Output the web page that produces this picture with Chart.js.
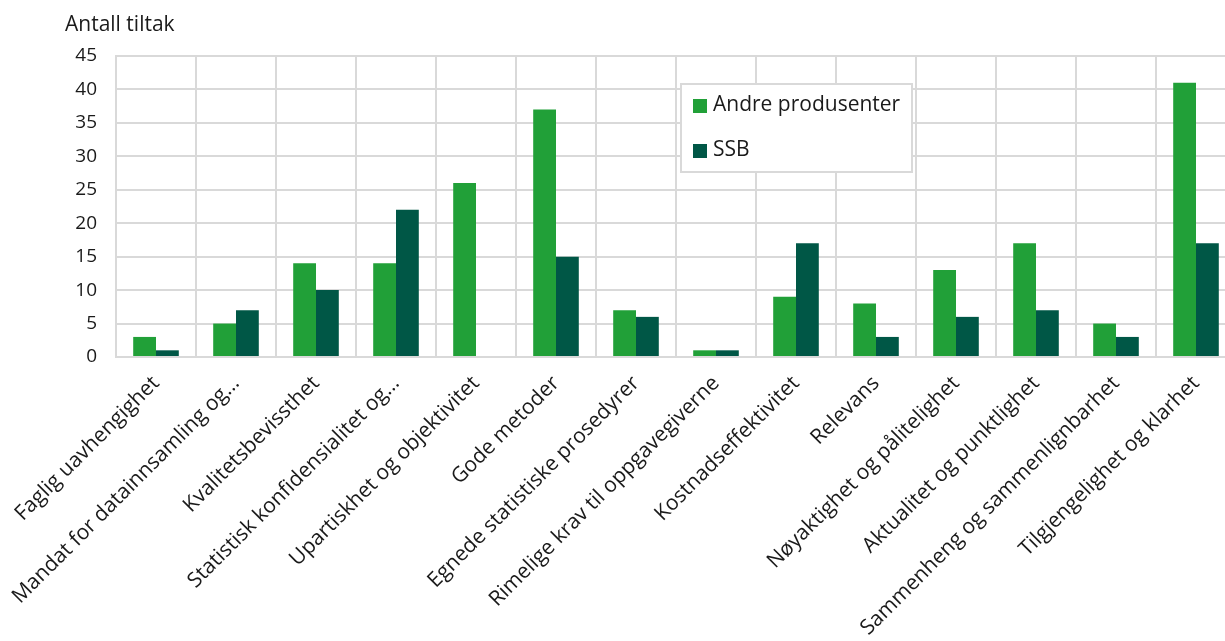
<!DOCTYPE html>
<html>
<head>
<meta charset="utf-8">
<script src="https://cdn.jsdelivr.net/npm/chart.js@4.4.1/dist/chart.umd.min.js"></script>
<style>
  html, body { margin: 0; padding: 0; background: #fff; overflow: hidden; }
  #wrap { width: 1240px; height: 641px; }
</style>
</head>
<body>
<div id="wrap"><canvas id="chart"></canvas></div>
<script>
const categories = [
    'Faglig uavhengighet',
    'Mandat for datainnsamling og…',
    'Kvalitetsbevissthet',
    'Statistisk konfidensialitet og…',
    'Upartiskhet og objektivitet',
    'Gode metoder',
    'Egnede statistiske prosedyrer',
    'Rimelige krav til oppgavegiverne',
    'Kostnadseffektivitet',
    'Relevans',
    'Nøyaktighet og pålitelighet',
    'Aktualitet og punktlighet',
    'Sammenheng og sammenlignbarhet',
    'Tilgjengelighet og klarhet'
];
const andreProdusenter = [3, 5, 14, 14, 26, 37, 7, 1, 9, 8, 13, 17, 5, 41];
const ssb = [1, 7, 10, 22, 0, 15, 6, 1, 17, 3, 6, 7, 3, 17];
const seriesNames = ['Andre produsenter', 'SSB'];
const yTicks = [0, 5, 10, 15, 20, 25, 30, 35, 40, 45];
const yTitle = 'Antall tiltak';

const colors = ['#21a038', '#005746'];
const gridColor = '#d9d9d9';
const textColor = '#1a1a1a';
const font = "'Open Sans', sans-serif";

// title over the y axis + boxed legend inside the plot
const extras = {
    id: 'extras',
    afterDraw(chart) {
        const ctx = chart.ctx;
        const area = chart.chartArea;
        ctx.save();
        ctx.fillStyle = textColor;
        ctx.font = '21px ' + font;
        ctx.textBaseline = 'middle';
        ctx.textAlign = 'left';
        ctx.fillText(yTitle, 65, 25);

        const bx = area.left + 565, by = 84, bw = 231, bh = 88;
        ctx.fillStyle = '#fff';
        ctx.fillRect(bx, by, bw, bh);
        ctx.strokeStyle = gridColor;
        ctx.lineWidth = 2;
        ctx.strokeRect(bx, by, bw, bh);
        seriesNames.forEach(function (name, i) {
            const y = by + 21 + i * 45;
            ctx.fillStyle = colors[i];
            ctx.fillRect(bx + 12, y - 6, 14, 14);
            ctx.fillStyle = textColor;
            ctx.fillText(name, bx + 32, y);
        });
        ctx.restore();
    }
};

new Chart(document.getElementById('chart'), {
    type: 'bar',
    data: {
        labels: categories,
        datasets: [{
            label: seriesNames[0],
            data: andreProdusenter,
            backgroundColor: colors[0]
        }, {
            label: seriesNames[1],
            data: ssb,
            backgroundColor: colors[1]
        }]
    },
    options: {
        responsive: true,
        maintainAspectRatio: false,
        animation: false,
        layout: { padding: { top: 56, left: 0, right: 4, bottom: 0 } },
        datasets: {
            bar: { categoryPercentage: 0.57, barPercentage: 1.0 }
        },
        plugins: {
            legend: { display: false },
            tooltip: { enabled: false }
        },
        scales: {
            x: {
                grid: { color: gridColor, lineWidth: 2, offset: true, drawTicks: false },
                border: { color: gridColor, width: 2 },
                ticks: {
                    color: textColor,
                    font: { family: font, size: 21 },
                    maxRotation: 45,
                    minRotation: 45,
                    autoSkip: false,
                    padding: 14
                },
                afterFit(scale) { scale.height = 641 - 357; }
            },
            y: {
                min: 0,
                max: 45,
                grid: { color: gridColor, lineWidth: 2, drawTicks: false },
                border: { color: gridColor, width: 2 },
                ticks: {
                    stepSize: 5,
                    color: textColor,
                    font: { family: font, size: 19 },
                    padding: 19,
                    callback: function (v) { return yTicks.includes(v) ? v : ''; }
                },
                afterFit(scale) { scale.width = 116; }
            }
        }
    },
    plugins: [extras]
});
</script>
</body>
</html>
